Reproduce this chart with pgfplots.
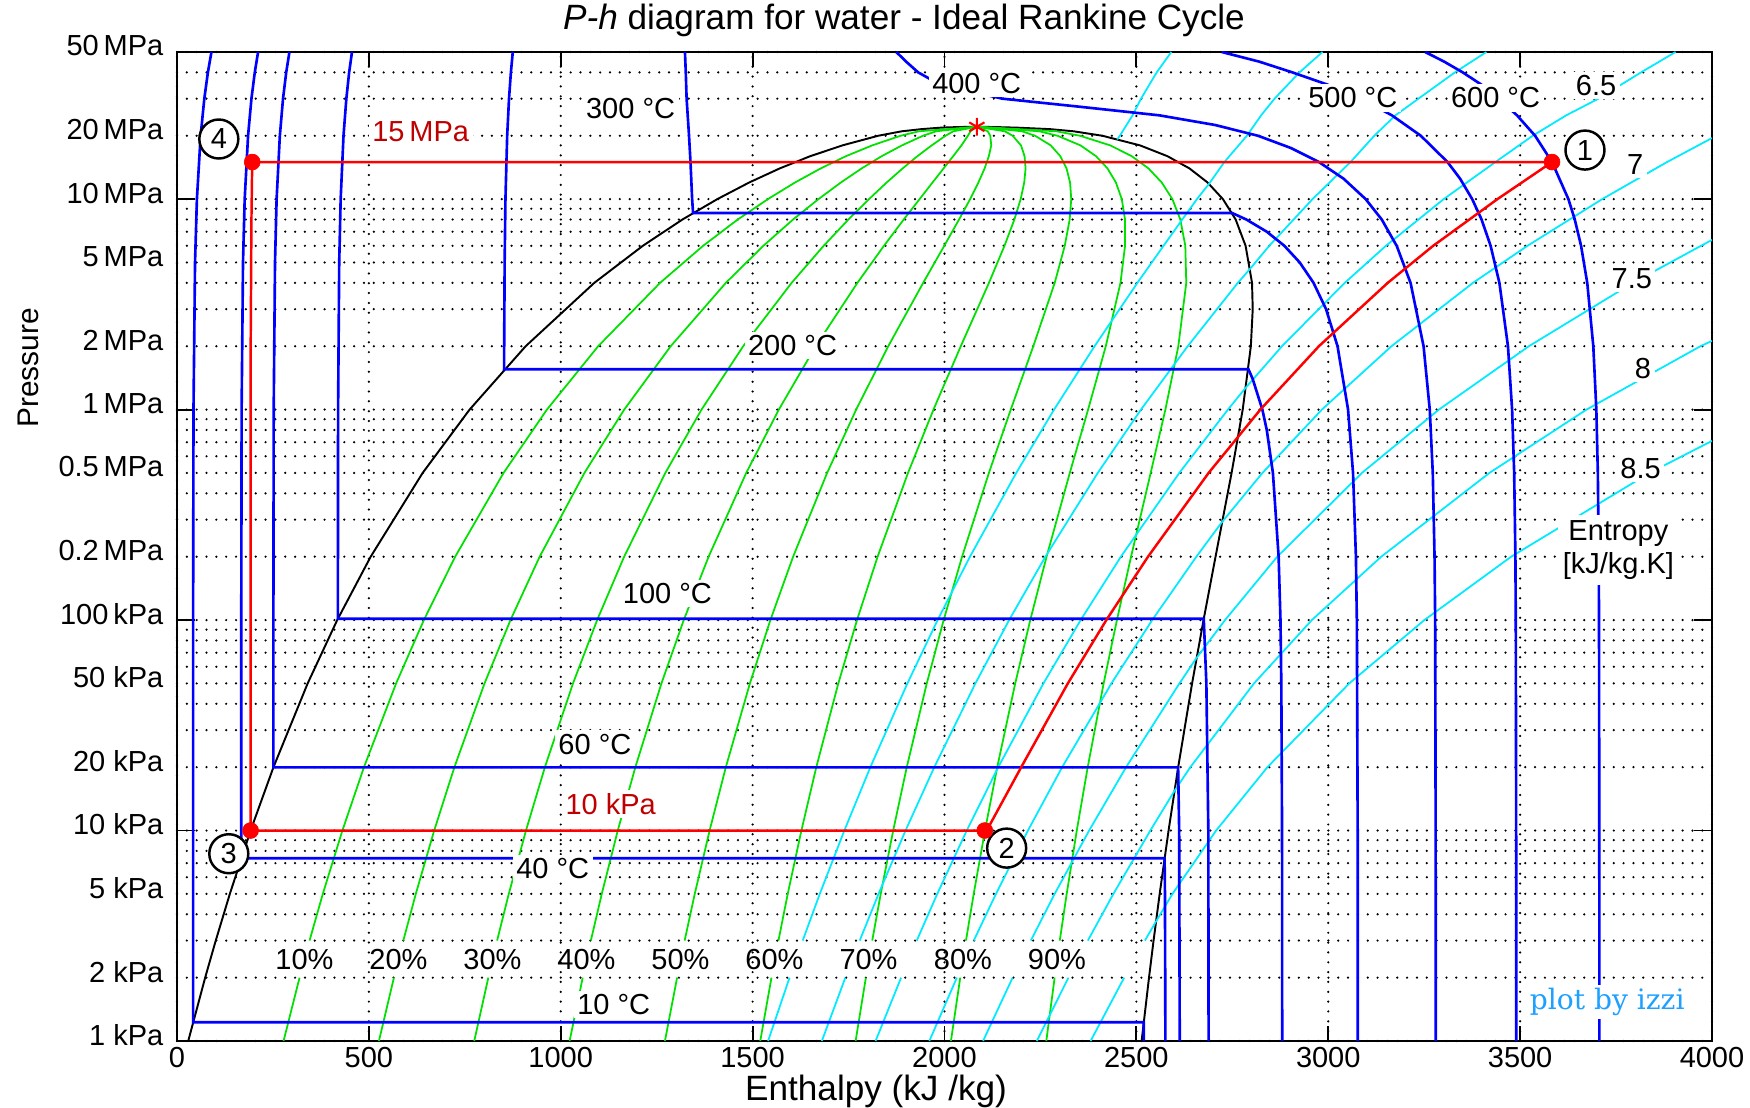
\documentclass[border=0pt]{standalone}
\usepackage{fontspec}
\setmainfont{Liberation Sans}
\newfontfamily\izzifont{DejaVu Serif}
\usepackage{pgfplots}
\pgfplotsset{compat=1.18}
\definecolor{cblue}{RGB}{0,0,255}
\definecolor{cgreen}{RGB}{0,225,0}
\definecolor{ccyan}{RGB}{0,235,255}
\definecolor{cred}{RGB}{255,0,0}
\definecolor{dred}{RGB}{190,0,0}
\definecolor{izzi}{RGB}{30,160,255}
\newcommand{\tf}{\fontsize{16.5}{19}\selectfont}
\newcommand{\lf}{\fontsize{20}{24}\selectfont}
\tikzset{lab/.style={fill=white, inner sep=2pt, font=\tf},
  pnum/.style={circle, draw, fill=white, line width=1.4pt, minimum size=0.78cm, inner sep=0pt, font=\tf}}
\begin{document}
\begin{tikzpicture}
\path[use as bounding box] (-3.54cm,-1.34cm) rectangle (31.46cm,20.82cm);
\begin{axis}[
  scale only axis, width=30.7cm, height=19.78cm,
  xmin=0, xmax=4000, ymin=1, ymax=50000, ymode=log,
  axis line style={line width=1.3pt},
  /pgf/number format/assume math mode=true,
  xtick={0,500,1000,1500,2000,2500,3000,3500,4000},
  xticklabels={0,500,1000,1500,2000,2500,3000,3500,4000},
  ytick={1,2,5,10,20,50,100,200,500,1000,2000,5000,10000,20000,50000},
  yticklabels={1 kPa,2 kPa,5 kPa,10 kPa,20 kPa,50 kPa,100\,kPa,0.2\,MPa,0.5\,MPa,1\,MPa,2\,MPa,5\,MPa,10\,MPa,20\,MPa,50\,MPa},
  minor ytick={3,4,6,7,8,9,30,40,60,70,80,90,300,400,600,700,800,900,3000,4000,6000,7000,8000,9000,30000,40000},
  xmajorgrids, ymajorgrids, yminorgrids,
  major grid style={black, line width=1.4pt, dash pattern=on 0pt off 5.6pt, line cap=round},
  minor grid style={black, line width=1.4pt, dash pattern=on 0pt off 5.6pt, line cap=round},
  major tick length=0.3cm, minor tick length=0pt,
  xtick style={black, line width=1.1pt},
  ytick style={draw=none},
  extra y ticks={10,100,1000,10000},
  extra y tick labels={},
  extra y tick style={grid=none, ytick style={draw=black, line width=1.1pt}, major tick length=0.36cm},
  tick label style={font=\tf},
  yticklabel style={xshift=-0.15cm, yshift=0.12cm},
  xlabel={Enthalpy (kJ /kg)},
  xlabel style={at={(axis description cs:0.4554,-0.051)}, anchor=center, font=\lf},
  ylabel={Pressure},
  ylabel style={at={(axis description cs:-0.097,0.6805)}, anchor=center, font=\fontsize{17}{20}\selectfont},
  iso/.style={cblue, line width=1.5pt, mark=none},
  qual/.style={cgreen, line width=1pt, mark=none},
  sline/.style={ccyan, line width=1pt, mark=none},
  dome/.style={black, line width=1.1pt, mark=none},
  cyc/.style={cred, line width=1.4pt, mark=none},
]
% ---------- saturation dome ----------
\addplot[dome] coordinates {(29.3,1) (73.4,2) (101.0,3) (137.7,5) (191.8,10) (251.4,20) (340.5,50) (417.5,100) (504.7,200) (640.1,500) (762.5,1000) (908.5,2000) (1087.4,4000) (1213.9,6000) (1317.1,8000) (1408.1,10000) (1491.3,12000) (1571.0,14000) (1650.4,16000) (1734.0,18000) (1827.2,20000) (1888.7,21000) (1940,21500) (1990,21850) (2035,22000) (2084.3,22064) (2130,22000) (2190,21850) (2275,21500) (2336.4,21000) (2411.4,20000) (2509.5,18000) (2580.8,16000) (2638.1,14000) (2685.4,12000) (2725.5,10000) (2758.7,8000) (2784.6,6000) (2801.4,4000) (2803.2,3000) (2798.3,2000) (2777.1,1000) (2748.1,500) (2706.3,200) (2675.0,100) (2645.2,50) (2608.9,20) (2583.9,10) (2560.7,5) (2544.8,3) (2532.9,2) (2513.7,1)};
% ---------- quality lines ----------
\addplot[qual] coordinates {(277.7,1) (319.4,2)};
\addplot[qual] coordinates {(526.2,1) (565.3,2)};
\addplot[qual] coordinates {(774.6,1) (811.3,2)};
\addplot[qual] coordinates {(1023.1,1) (1057.2,2)};
\addplot[qual] coordinates {(1271.5,1) (1303.2,2)};
\addplot[qual] coordinates {(1519.9,1) (1549.1,2)};
\addplot[qual] coordinates {(1768.4,1) (1795.1,2)};
\addplot[qual] coordinates {(2016.8,1) (2041.0,2)};
\addplot[qual] coordinates {(2265.3,1) (2287.0,2)};
\addplot[qual] coordinates {(345.4,3) (380.0,5) (431.0,10) (487.2,20) (571.0,50) (643.3,100) (724.9,200) (850.9,500) (964.0,1000) (1097.5,2000) (1258.8,4000) (1371.0,6000) (1461.3,8000) (1539.8,10000) (1610.7,12000) (1677.7,14000) (1743.4,16000) (1811.6,18000) (1885.6,20000) (1933.5,21000) (2084.3,22064)};
\addplot[qual] coordinates {(589.8,3) (622.3,5) (670.2,10) (722.9,20) (801.4,50) (869.0,100) (945.0,200) (1061.7,500) (1165.4,1000) (1286.5,2000) (1430.2,4000) (1528.0,6000) (1605.4,8000) (1671.6,10000) (1730.1,12000) (1784.4,14000) (1836.5,16000) (1889.1,18000) (1944.0,20000) (1978.2,21000) (2084.3,22064)};
\addplot[qual] coordinates {(834.1,3) (864.6,5) (909.4,10) (958.7,20) (1031.9,50) (1094.8,100) (1165.2,200) (1272.5,500) (1366.9,1000) (1475.4,2000) (1601.6,4000) (1685.1,6000) (1749.6,8000) (1803.3,10000) (1849.5,12000) (1891.1,14000) (1929.5,16000) (1966.7,18000) (2002.5,20000) (2023.0,21000) (2084.3,22064)};
\addplot[qual] coordinates {(1078.5,3) (1106.9,5) (1148.6,10) (1194.4,20) (1262.4,50) (1320.5,100) (1385.3,200) (1483.3,500) (1568.3,1000) (1664.4,2000) (1773.0,4000) (1842.2,6000) (1893.7,8000) (1935.1,10000) (1968.9,12000) (1997.8,14000) (2022.6,16000) (2044.2,18000) (2060.9,20000) (2067.8,21000) (2084.3,22064)};
\addplot[qual] coordinates {(1322.9,3) (1349.2,5) (1387.9,10) (1430.2,20) (1492.9,50) (1546.3,100) (1605.5,200) (1694.1,500) (1769.8,1000) (1853.4,2000) (1944.4,4000) (1999.3,6000) (2037.9,8000) (2066.8,10000) (2088.4,12000) (2104.6,14000) (2115.6,16000) (2121.8,18000) (2119.3,20000) (2112.6,21000) (2084.3,22064)};
\addplot[qual] coordinates {(1567.3,3) (1591.5,5) (1627.1,10) (1665.9,20) (1723.3,50) (1772.0,100) (1825.7,200) (1904.9,500) (1971.3,1000) (2042.4,2000) (2115.8,4000) (2156.3,6000) (2182.1,8000) (2198.5,10000) (2207.8,12000) (2211.3,14000) (2208.6,16000) (2199.3,18000) (2177.7,20000) (2157.3,21000) (2084.3,22064)};
\addplot[qual] coordinates {(1811.7,3) (1833.8,5) (1866.3,10) (1901.7,20) (1953.8,50) (1997.8,100) (2045.8,200) (2115.7,500) (2172.7,1000) (2231.4,2000) (2287.2,4000) (2313.4,6000) (2326.2,8000) (2330.3,10000) (2327.2,12000) (2318.0,14000) (2301.7,16000) (2276.9,18000) (2236.1,20000) (2202.1,21000) (2084.3,22064)};
\addplot[qual] coordinates {(2056.0,3) (2076.1,5) (2105.5,10) (2137.4,20) (2184.3,50) (2223.5,100) (2266.0,200) (2326.5,500) (2374.2,1000) (2420.3,2000) (2458.6,4000) (2470.5,6000) (2470.4,8000) (2462.0,10000) (2446.6,12000) (2424.7,14000) (2394.7,16000) (2354.4,18000) (2294.6,20000) (2246.9,21000) (2084.3,22064)};
\addplot[qual] coordinates {(2300.4,3) (2318.4,5) (2344.7,10) (2373.2,20) (2414.7,50) (2449.3,100) (2486.1,200) (2537.3,500) (2575.6,1000) (2609.3,2000) (2630.0,4000) (2627.5,6000) (2614.5,8000) (2593.8,10000) (2566.0,12000) (2531.4,14000) (2487.8,16000) (2432.0,18000) (2353.0,20000) (2291.6,21000) (2084.3,22064)};
% ---------- isentropes ----------
\addplot[sline] coordinates {(2450,19200) (2457,20000) (2490,25000) (2512,30000) (2553,40000) (2591,50000)};
\addplot[sline] coordinates {(1540.3,1) (1596.2,2)};
\addplot[sline] coordinates {(1630.5,3) (1675.0,5) (1739.0,10) (1806.8,20) (1903.3,50) (1982.0,100) (2066.3,200) (2186.9,500) (2285.5,1000) (2391.0,2000) (2502.6,4000) (2570.8,6000) (2619.6,8000) (2657.8,10000) (2689,11800) (2729.3,15000) (2788,20000) (2825,25000) (2860,30000) (2925,40000) (2985,50000)};
\addplot[sline] coordinates {(1680.4,1) (1741.6,2)};
\addplot[sline] coordinates {(1779.1,3) (1828.1,5) (1898.5,10) (1973.4,20) (2080.5,50) (2168.4,100) (2262.9,200) (2399.3,500) (2512.0,1000) (2633.7,2000) (2764.4,4000) (2797,4680) (2846.2,6000) (2959.0,10000) (3058.0,15000) (3120,20000) (3175,25000) (3235,30000) (3330,40000) (3412,50000)};
\addplot[sline] coordinates {(1820.4,1) (1886.9,2)};
\addplot[sline] coordinates {(1927.7,3) (1981.1,5) (2058.0,10) (2140.0,20) (2257.8,50) (2354.8,100) (2459.6,200) (2611.9,500) (2738.6,1000) (2785,1271) (2879.4,2000) (3043.0,4000) (3150.3,6000) (3300.8,10000) (3435.6,15000) (3532.7,20000) (3620,25000) (3704,30000) (3815,40000) (3905,50000)};
\addplot[sline] coordinates {(1960.5,1) (2032.2,2)};
\addplot[sline] coordinates {(2076.3,3) (2134.1,5) (2217.4,10) (2306.6,20) (2435.0,50) (2541.2,100) (2656.3,200) (2723,292) (2828.5,500) (2983.4,1000) (3164.7,2000) (3377.1,4000) (3519.2,6000) (3713.9,10000) (3882.8,15000) (4000,19500)};
\addplot[sline] coordinates {(2100.5,1) (2177.5,2)};
\addplot[sline] coordinates {(2224.9,3) (2287.1,5) (2376.9,10) (2473.2,20) (2612.2,50) (2656,65.8) (2731,100) (2867.1,200) (3087.7,500) (3288.3,1000) (3522.8,2000) (3793.8,4000) (3971.3,6000) (4000,6400)};
\addplot[sline] coordinates {(2240.6,1) (2322.9,2)};
\addplot[sline] coordinates {(2373.5,3) (2440.1,5) (2536.4,10) (2598,15.3) (2640.6,20) (2806.5,50) (2957.3,100) (3138,200) (3420,500) (3673,1000) (3969.8,2000) (4000,2120)};
\addplot[sline] coordinates {(2380.7,1) (2468.2,2)};
\addplot[sline] coordinates {(2522.2,3) (2552,3.72) (2594,5) (2707.8,10) (2841.5,20) (3054.7,50) (3250.5,100) (3476.6,200) (3837.1,500) (4000,710)};
% ---------- isotherms ----------
\addplot[iso] coordinates {(89.8,50000) (80.5,40000) (71.2,30000) (61.6,20000) (51.9,10000) (47.0,5000) (43.0,1000) (42.0,100) (42.0,1.228) (2519.2,1.228) (2519.5,1)};
\addplot[iso] coordinates {(211.3,50000) (202.7,40000) (194.0,30000) (185.2,20000) (176.4,10000) (172.0,5000) (168.4,1000) (167.5,100) (167.5,7.385) (2573.5,7.385) (2574.5,5) (2575.6,1)};
\addplot[iso] coordinates {(293.0,50000) (284.6,40000) (276.3,30000) (268.0,20000) (259.6,10000) (255.4,5000) (252.0,1000) (251.2,100) (251.2,19.95) (2608.8,19.95) (2611.5,10) (2613.0,1)};
\addplot[iso] coordinates {(456.0,50000) (448.6,40000) (441.3,30000) (433.9,20000) (426.5,10000) (422.7,5000) (419.8,1000) (419.2,101.4) (2675.6,101.4) (2682.4,50) (2687.5,10) (2688.2,1)};
\addplot[iso] coordinates {(875.0,50000) (870.1,40000) (865.2,30000) (860.4,20000) (855.9,10000) (853.8,5000) (852.6,2000) (852.3,1554.9) (2792.0,1554.9) (2803.0,1400) (2828.3,1000) (2839.8,800) (2855.8,500) (2870.7,200) (2875.5,100) (2877.7,50) (2879.6,10) (2880.0,1)};
\addplot[iso] coordinates {(1323.7,50000) (1325.8,40000) (1328.0,30000) (1334.3,20000) (1338.1,15000) (1342.4,10000) (1344.8,8588) (2749.6,8588) (2786.5,8000) (2839.9,7000) (2885.6,6000) (2925.7,5000) (2961.7,4000) (2994.3,3000) (3024.2,2000) (3051.6,1000) (3064.6,500) (3072.1,200) (3074.5,100) (3076.7,10) (3077.0,1)};
\addplot[iso] coordinates {(1874.4,50000) (1900,45000) (1931.4,40000) (1988.6,35000) (2151.2,30000) (2350,27500) (2560,25000) (2705,22500) (2816.9,20000) (2902.4,17500) (2975.7,15000) (3040.0,12500) (3097.5,10000) (3139.4,8000) (3178.3,6000) (3214.5,4000) (3248.4,2000) (3264.5,1000) (3272.4,500) (3277.0,200) (3278.6,100) (3279.9,10) (3280.1,1)};
\addplot[iso] coordinates {(2722.5,50000) (2820,45000) (2906.5,40000) (2997.9,35000) (3084.8,30000) (3165.9,25000) (3241.2,20000) (3310.8,15000) (3343.6,12500) (3375.1,10000) (3399.5,8000) (3423.1,6000) (3446.0,4000) (3468.3,2000) (3479.1,1000) (3484.5,500) (3487.7,200) (3488.7,100) (3489.7,10) (3490,1)};
\addplot[iso] coordinates {(3252.6,50000) (3302,45000) (3350.4,40000) (3398.9,35000) (3444.2,30000) (3491.9,25000) (3539.0,20000) (3583.1,15000) (3625.8,10000) (3642.4,8000) (3658.8,6000) (3674.9,4000) (3690.7,2000) (3698.6,1000) (3702.5,500) (3704.8,200) (3705.6,100) (3706.3,10) (3706.5,1)};
% ---------- Rankine cycle ----------
\addplot[cyc] coordinates {(191.8,10) (192,2000) (194,8000) (196,15000) (3583.1,15000) (3440.9,10000) (3273.4,6000) (3155.0,4000) (2975.6,2000) (2823.1,1000) (2688.2,500) (2530.3,200) (2421.7,100) (2321.4,50) (2199.9,20) (2110,10) (191.8,10)};
\addplot[only marks, mark=*, mark size=4.5pt, cred] coordinates {(3583.1,15000) (2105,10) (191.8,10) (196,15000)};
\addplot[only marks, mark=asterisk, mark size=5pt, cred, line width=1.2pt] coordinates {(2084.3,22064)};
% ---------- labels ----------
\node[lab] at (axis cs:1182,26800) {300 °C};
\node[lab] at (axis cs:2084,35500) {400 °C};
\node[lab] at (axis cs:3064,30300) {500 °C};
\node[lab] at (axis cs:3436,30300) {600 °C};
\node[lab] at (axis cs:1604,2011) {200 °C};
\node[lab] at (axis cs:1278,133.6) {100 °C};
\node[lab] at (axis cs:1089,25.7) {60 °C};
\node[lab] at (axis cs:979,6.6) {40 °C};
\node[lab] at (axis cs:1138,1.49) {10 °C};
\node[lab, text=dred] at (axis cs:635,21000) {15\,MPa};
\node[lab, text=dred] at (axis cs:1130,13.4) {10 kPa};
\node[lab] at (axis cs:3698,34600) {6.5};
\node[lab] at (axis cs:3800,14550) {7};
\node[lab] at (axis cs:3791,4190) {7.5};
\node[lab] at (axis cs:3820,1575) {8};
\node[lab] at (axis cs:3814,525) {8.5};
\node[lab, align=center, inner sep=3pt] at (axis cs:3756,215) {Entropy\\\relax [kJ/kg.K]};
\node[fill=white, inner sep=2pt, text=izzi, font=\izzifont\fontsize{16}{19}\selectfont] at (axis cs:3727,1.53) {plot by izzi};
\node[font=\tf] at (axis cs:332,2.45) {10\%};
\node[font=\tf] at (axis cs:577,2.45) {20\%};
\node[font=\tf] at (axis cs:822,2.45) {30\%};
\node[font=\tf] at (axis cs:1067,2.45) {40\%};
\node[font=\tf] at (axis cs:1312,2.45) {50\%};
\node[font=\tf] at (axis cs:1557,2.45) {60\%};
\node[font=\tf] at (axis cs:1802,2.45) {70\%};
\node[font=\tf] at (axis cs:2048,2.45) {80\%};
\node[font=\tf] at (axis cs:2293,2.45) {90\%};
\node[pnum] at (axis cs:3669,17100) {1};
\node[pnum] at (axis cs:2162,8.25) {2};
\node[pnum] at (axis cs:135,7.76) {3};
\node[pnum] at (axis cs:109,19300) {4};
\end{axis}
\node[font=\lf, anchor=center] at (14.54cm,20.42cm) {\textit{P-h} diagram for water - Ideal Rankine Cycle};
\end{tikzpicture}
\end{document}
